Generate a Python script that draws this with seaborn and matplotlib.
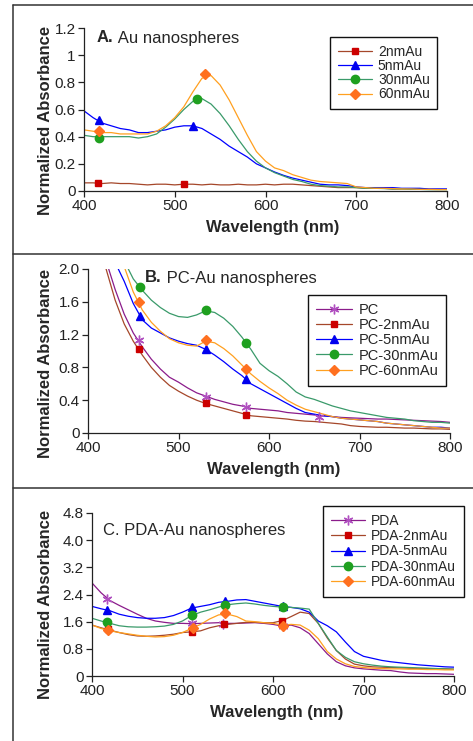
import numpy as np
import pandas as pd
import seaborn as sns
import matplotlib.pyplot as plt
from matplotlib.lines import Line2D

W, H = 473, 741

wavelength = list(range(400, 801, 10))

# A. Au nanospheres
a_names = ["2nmAu", "5nmAu", "30nmAu", "60nmAu"]
a_2nm = [0.06, 0.06, 0.055, 0.06, 0.055, 0.055, 0.05, 0.045, 0.05, 0.05, 0.045,
         0.05, 0.05, 0.045, 0.05, 0.045, 0.045, 0.05, 0.045, 0.045, 0.05, 0.045,
         0.05, 0.05, 0.045, 0.04, 0.035, 0.03, 0.025, 0.025, 0.025, 0.02, 0.02,
         0.02, 0.015, 0.015, 0.015, 0.015, 0.012, 0.012, 0.012]
a_5nm = [0.59, 0.54, 0.50, 0.48, 0.46, 0.45, 0.43, 0.43, 0.44, 0.45, 0.47,
         0.48, 0.48, 0.46, 0.42, 0.38, 0.33, 0.29, 0.25, 0.20, 0.17, 0.14,
         0.115, 0.095, 0.08, 0.065, 0.05, 0.045, 0.045, 0.04, 0.03, 0.025, 0.025,
         0.025, 0.025, 0.02, 0.02, 0.02, 0.015, 0.015, 0.015]
a_30nm = [0.41, 0.40, 0.40, 0.40, 0.40, 0.40, 0.39, 0.40, 0.42, 0.47, 0.53,
          0.60, 0.66, 0.68, 0.64, 0.57, 0.48, 0.38, 0.29, 0.22, 0.17, 0.135,
          0.11, 0.085, 0.07, 0.05, 0.04, 0.035, 0.03, 0.03, 0.025, 0.02, 0.02,
          0.018, 0.015, 0.015, 0.012, 0.012, 0.01, 0.01, 0.01]
a_60nm = [0.45, 0.44, 0.43, 0.43, 0.42, 0.42, 0.42, 0.42, 0.44, 0.48, 0.54,
          0.62, 0.73, 0.83, 0.85, 0.78, 0.67, 0.54, 0.41, 0.29, 0.22, 0.17,
          0.15, 0.12, 0.10, 0.08, 0.07, 0.065, 0.06, 0.055, 0.03, 0.025, 0.02,
          0.02, 0.018, 0.015, 0.015, 0.012, 0.012, 0.01, 0.01]
a_mark_wl = [[415, 510], [417, 520], [417, 525], [417, 533]]
a_mark_abs = [[0.06, 0.05], [0.52, 0.48], [0.39, 0.68], [0.44, 0.86]]

# B. PC-Au nanospheres
b_names = ["PC", "PC-2nmAu", "PC-5nmAu", "PC-30nmAu", "PC-60nmAu"]
b_pc = [3.4, 2.7, 2.1, 1.75, 1.45, 1.22, 1.05, 0.90, 0.78, 0.68, 0.62,
        0.55, 0.49, 0.45, 0.41, 0.38, 0.35, 0.33, 0.30, 0.29, 0.28, 0.27,
        0.25, 0.24, 0.23, 0.22, 0.21, 0.20, 0.19, 0.185, 0.18, 0.175, 0.17,
        0.17, 0.165, 0.16, 0.155, 0.15, 0.145, 0.14, 0.13]
b_2nm = [3.2, 2.5, 2.0, 1.62, 1.33, 1.12, 0.95, 0.80, 0.68, 0.58, 0.51,
         0.45, 0.40, 0.36, 0.33, 0.30, 0.27, 0.24, 0.21, 0.20, 0.19, 0.18,
         0.17, 0.155, 0.145, 0.14, 0.13, 0.12, 0.11, 0.09, 0.08, 0.075, 0.07,
         0.07, 0.065, 0.06, 0.06, 0.055, 0.05, 0.05, 0.045]
b_5nm = [3.0, 2.6, 2.3, 2.08, 1.85, 1.58, 1.38, 1.28, 1.22, 1.16, 1.12,
         1.09, 1.07, 1.02, 0.95, 0.87, 0.78, 0.70, 0.60, 0.54, 0.48, 0.42,
         0.36, 0.30, 0.25, 0.23, 0.21, 0.20, 0.18, 0.17, 0.16, 0.15, 0.14,
         0.12, 0.11, 0.10, 0.09, 0.08, 0.07, 0.07, 0.06]
b_30nm = [3.5, 3.0, 2.6, 2.3, 2.1, 1.88, 1.74, 1.62, 1.53, 1.46, 1.42,
          1.41, 1.44, 1.49, 1.47, 1.40, 1.30, 1.17, 1.02, 0.85, 0.76, 0.69,
          0.60, 0.50, 0.44, 0.41, 0.37, 0.33, 0.30, 0.27, 0.25, 0.23, 0.21,
          0.19, 0.18, 0.17, 0.15, 0.14, 0.13, 0.13, 0.12]
b_60nm = [3.2, 2.8, 2.5, 2.25, 2.03, 1.72, 1.50, 1.35, 1.24, 1.15, 1.10,
          1.07, 1.06, 1.12, 1.10, 1.03, 0.94, 0.83, 0.72, 0.63, 0.55, 0.48,
          0.40, 0.34, 0.29, 0.26, 0.23, 0.20, 0.18, 0.17, 0.16, 0.15, 0.14,
          0.12, 0.11, 0.10, 0.09, 0.08, 0.07, 0.06, 0.06]
b_mark_wl = [[456, 530, 575, 655], [456, 530, 575], [457, 530, 575],
             [457, 530, 575], [456, 530, 575]]
b_mark_abs = [[1.13, 0.44, 0.32, 0.20], [1.02, 0.36, 0.22], [1.43, 1.02, 0.66],
              [1.78, 1.50, 1.10], [1.60, 1.13, 0.78]]

# C. PDA-Au nanospheres
c_names = ["PDA", "PDA-2nmAu", "PDA-5nmAu", "PDA-30nmAu", "PDA-60nmAu"]
c_pda = [2.74, 2.45, 2.22, 2.08, 1.95, 1.82, 1.70, 1.62, 1.58, 1.55, 1.55,
         1.54, 1.55, 1.56, 1.57, 1.55, 1.55, 1.56, 1.57, 1.55, 1.52, 1.47,
         1.50, 1.42, 1.25, 0.95, 0.65, 0.42, 0.30, 0.24, 0.21, 0.19, 0.17,
         0.16, 0.12, 0.09, 0.08, 0.07, 0.07, 0.06, 0.05]
c_2nm = [1.50, 1.42, 1.35, 1.28, 1.22, 1.18, 1.17, 1.18, 1.20, 1.23, 1.28,
         1.30, 1.33, 1.42, 1.48, 1.52, 1.55, 1.58, 1.58, 1.57, 1.57, 1.63,
         1.75, 1.88, 1.84, 1.55, 1.12, 0.75, 0.50, 0.35, 0.30, 0.27, 0.26,
         0.25, 0.24, 0.23, 0.22, 0.22, 0.21, 0.21, 0.20]
c_5nm = [2.05, 1.98, 1.92, 1.82, 1.76, 1.72, 1.70, 1.70, 1.72, 1.78, 1.88,
         2.00, 2.05, 2.10, 2.17, 2.20, 2.24, 2.25, 2.20, 2.15, 2.10, 2.05,
         2.02, 1.98, 1.88, 1.62, 1.48, 1.30, 1.00, 0.72, 0.58, 0.52, 0.46,
         0.42, 0.39, 0.36, 0.33, 0.31, 0.29, 0.27, 0.26]
c_30nm = [1.70, 1.62, 1.55, 1.48, 1.45, 1.44, 1.44, 1.45, 1.47, 1.52, 1.62,
          1.78, 1.88, 1.95, 2.03, 2.10, 2.13, 2.15, 2.12, 2.08, 2.05, 2.03,
          2.02, 2.00, 1.97, 1.55, 1.15, 0.75, 0.55, 0.42, 0.36, 0.32, 0.29,
          0.27, 0.26, 0.25, 0.24, 0.23, 0.22, 0.21, 0.20]
c_60nm = [1.50, 1.40, 1.33, 1.28, 1.24, 1.20, 1.17, 1.15, 1.16, 1.20, 1.28,
          1.40, 1.52, 1.68, 1.80, 1.82, 1.75, 1.62, 1.60, 1.57, 1.55, 1.50,
          1.52, 1.50, 1.35, 1.10, 0.72, 0.50, 0.36, 0.28, 0.25, 0.23, 0.22,
          0.21, 0.21, 0.20, 0.20, 0.19, 0.19, 0.18, 0.18]
c_mark_wl = [[417, 511, 545, 611], [418, 511, 546, 610], [417, 511, 547, 611],
             [417, 511, 547, 611], [418, 512, 547, 611]]
c_mark_abs = [[2.27, 1.55, 1.52, 1.46], [1.37, 1.30, 1.52, 1.62], [1.94, 2.03, 2.20, 2.05],
              [1.58, 1.79, 2.10, 2.03], [1.35, 1.42, 1.86, 1.47]]

# styles per series kind
LINE = {"bare": "#8B1C8B", "2": "#A5472A", "5": "#0000FF", "30": "#3A9A6A", "60": "#FFA020"}
MCOL = {"bare": "#B050C0", "2": "#CC0000", "5": "#0000EE", "30": "#1FA01F", "60": "#FF7020"}
MARK = {"bare": (6, 2, 0), "2": "s", "5": "^", "30": "o", "60": "D"}
MSIZE = {"bare": 7, "2": 5, "5": 6, "30": 6, "60": 5}

sns.set_style("ticks")
plt.rcParams["font.family"] = ["Liberation Sans", "DejaVu Sans"]

fig = plt.figure(figsize=(W / 100, H / 100), dpi=100)


def px_axes(left, top, right, bottom):
    return fig.add_axes([left / W, 1 - bottom / H, (right - left) / W, (bottom - top) / H])


def draw_panel(ax, names, keys, values, mark_wl, mark_abs, ylim, yticks, yticklabels,
               ylab_xy, xlab_xy, legend_px, legend_fs, spacing):
    df = pd.DataFrame({
        "Wavelength": np.tile(wavelength, len(names)),
        "Absorbance": np.concatenate(values),
        "Sample": np.repeat(names, len(wavelength)),
    })
    palette = {n: LINE[k] for n, k in zip(names, keys)}
    sns.lineplot(data=df, x="Wavelength", y="Absorbance", hue="Sample", hue_order=names,
                 palette=palette, estimator=None, sort=False, legend=False,
                 linewidth=0.9, ax=ax)
    handles = []
    for k, mx, my in zip(keys, mark_wl, mark_abs):
        ax.plot(mx, my, linestyle="none", marker=MARK[k], ms=MSIZE[k],
                color=MCOL[k], mfc=MCOL[k], mec=MCOL[k], mew=1.0, clip_on=False)
        handles.append(Line2D([], [], color=LINE[k], lw=0.9, marker=MARK[k],
                              ms=MSIZE[k], mfc=MCOL[k], mec=MCOL[k], mew=1.0))
    ax.set_xlim(400, 800)
    ax.set_ylim(*ylim)
    ax.set_xticks([400, 500, 600, 700, 800])
    ax.set_yticks(yticks)
    ax.set_yticklabels(yticklabels)
    sns.despine(ax=ax)
    for s in ["left", "bottom"]:
        ax.spines[s].set_color("#222222")
        ax.spines[s].set_linewidth(0.9)
    ax.tick_params(direction="out", length=4, width=0.9, labelsize=11, pad=2,
                   color="#222222", labelcolor="#222222")
    ax.set_xlabel("Wavelength (nm)", fontsize=12, weight="bold")
    ax.set_ylabel("Normalized Absorbance", fontsize=12, weight="bold")
    ax.yaxis.set_label_coords(*ylab_xy)
    ax.xaxis.set_label_coords(*xlab_xy)
    leg = ax.legend(handles, names, loc="upper left",
                    bbox_to_anchor=(legend_px[0] / W, 1 - legend_px[1] / H),
                    bbox_transform=fig.transFigure, borderaxespad=0, fontsize=legend_fs,
                    frameon=True, fancybox=False, edgecolor="#111111", framealpha=1,
                    handlelength=2.5, handletextpad=0.4, labelspacing=spacing,
                    borderpad=0.55)
    leg.get_frame().set_linewidth(1.0)


kind5 = ["bare", "2", "5", "30", "60"]

ax_a = px_axes(84, 28, 447, 191)
draw_panel(ax_a, a_names, kind5[1:], [a_2nm, a_5nm, a_30nm, a_60nm], a_mark_wl, a_mark_abs,
           (0, 1.2), [0, 0.2, 0.4, 0.6, 0.8, 1.0, 1.2], ["0", "0.2", "0.4", "0.6", "0.8", "1", "1.2"],
           ((53 - 84) / 363, (191 - 120) / 163), ((273 - 84) / 363, (191 - 220) / 163),
           (330, 37), 10, 0.02)

ax_b = px_axes(88, 269, 450, 433)
draw_panel(ax_b, b_names, kind5, [b_pc, b_2nm, b_5nm, b_30nm, b_60nm], b_mark_wl, b_mark_abs,
           (0, 2.0), [0, 0.4, 0.8, 1.2, 1.6, 2.0], ["0", "0.4", "0.8", "1.2", "1.6", "2.0"],
           ((53 - 88) / 362, (433 - 363) / 164), ((274 - 88) / 362, (433 - 462) / 164),
           (308, 295), 10.5, 0.08)

ax_c = px_axes(92, 513, 454, 676)
draw_panel(ax_c, c_names, kind5, [c_pda, c_2nm, c_5nm, c_30nm, c_60nm], c_mark_wl, c_mark_abs,
           (0, 4.8), [0, 0.8, 1.6, 2.4, 3.2, 4.0, 4.8], ["0", "0.8", "1.6", "2.4", "3.2", "4.0", "4.8"],
           ((53 - 92) / 362, (676 - 604) / 163), ((277 - 92) / 362, (676 - 705) / 163),
           (323, 506), 10, 0.1)

# panel titles
t = fig.text(97 / W, 1 - 38 / H, "A.", fontsize=12, weight="bold", va="center")
ax_a.annotate(" Au nanospheres", xy=(1, 0.5), xycoords=t, va="center", fontsize=12)
t = fig.text(145 / W, 1 - 278 / H, "B.", fontsize=12, weight="bold", va="center")
ax_b.annotate(" PC-Au nanospheres", xy=(1, 0.5), xycoords=t, va="center", fontsize=12)
fig.text(103 / W, 1 - 530 / H, "C. PDA-Au nanospheres", fontsize=12, va="center")

# panel frames
frame = dict(color="#333333", lw=1.1, transform=fig.transFigure)
fig.add_artist(Line2D([13 / W, 13 / W], [1 - 5 / H, 0], **frame))
for yy in [5, 254, 488]:
    fig.add_artist(Line2D([13 / W, 1], [1 - yy / H, 1 - yy / H], **frame))

fig.savefig("out.png", dpi=100)
